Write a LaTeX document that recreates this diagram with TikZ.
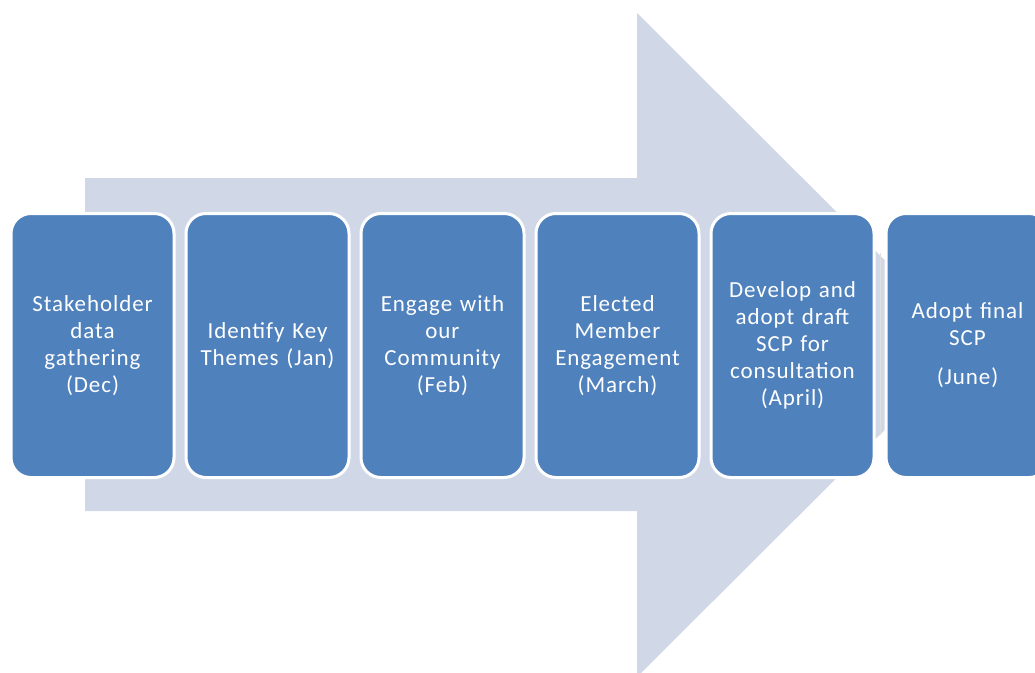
\documentclass[tikz,border=0pt]{standalone}
\usepackage{fontspec}
\setmainfont{Carlito}[LetterSpace=4]
\definecolor{boxblue}{HTML}{4F81BD}
\definecolor{arrowfill}{HTML}{D0D8E8}
\newcommand{\stepw}{175}

\begin{document}
\begin{tikzpicture}[x=1pt,y=-1pt,
    box/.style={draw=white, line width=3pt, fill=boxblue, rounded corners=20pt, minimum width=163pt, minimum height=264pt, text width=156pt, align=center, text=white, font=\fontsize{23}{27}\selectfont, inner sep=0pt}]
    \useasboundingbox (0,0) rectangle (1035,672);
    \clip (0,0) rectangle (1035,672);

    % Big arrow behind
    \fill[arrowfill] (85,178) -- (637,178) -- (637,13) -- (970,345) -- (637,677) -- (637,511) -- (85,511) -- cycle;

    % Faint divider
    \coordinate (div-top) at (880,253);
    \coordinate (div-bot) at (880,435);
    \draw[gray!25, line width=0.8pt] (div-top) -- (div-bot);

    % Steps
    \node[box] (box-1) at (92.5+0*\stepw,345.5) {Stakeholder\\data\\gathering\\(Dec)};
    \node[box] (box-2) at (92.5+1*\stepw,345.5) {Identify Key\\Themes (Jan)};
    \node[box] (box-3) at (92.5+2*\stepw,345.5) {Engage with\\our\\Community\\(Feb)};
    \node[box] (box-4) at (92.5+3*\stepw,345.5) {Elected\\Member\\Engagement\\(March)};
    \node[box] (box-5) at (92.5+4*\stepw,345.5) {Develop and\\adopt draft\\SCP for\\consultation\\(April)};
    \node[box] (box-6) at (92.5+5*\stepw,345.5) {Adopt final\\SCP\\[12pt](June)};

\end{tikzpicture}
\end{document}
